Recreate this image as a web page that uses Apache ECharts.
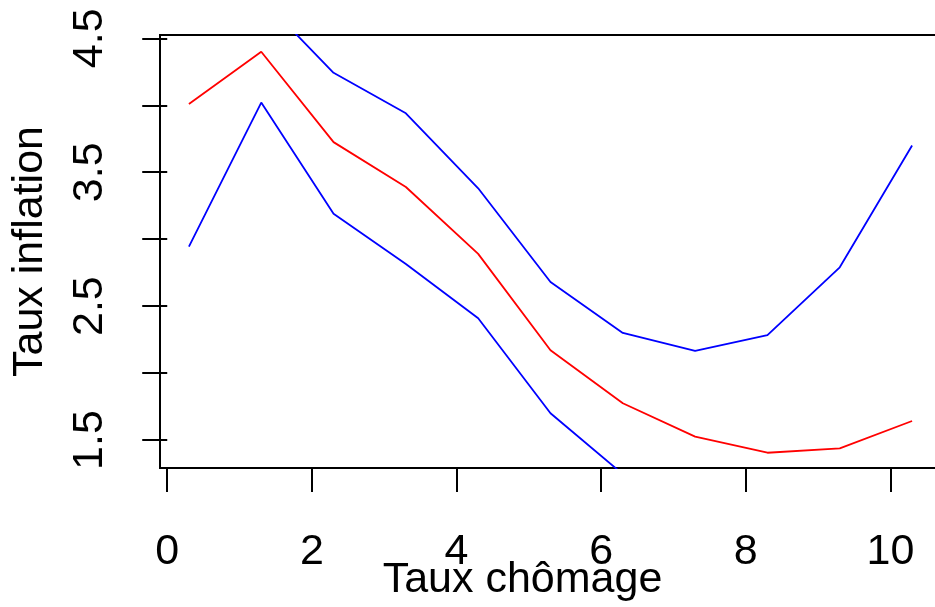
<!DOCTYPE html>
<html>
<head>
<meta charset="utf-8">
<script src="https://cdn.jsdelivr.net/npm/echarts@6/dist/echarts.min.js"></script>
<style>
  html, body { margin: 0; padding: 0; background: #fff; }
  #chart { width: 935px; height: 607px; }
</style>
</head>
<body>
<div id="chart"></div>
<script>
// Unemployment rate (x) vs. inflation rate: fitted curve with its lower and upper band
const chomage = [0.3, 1.3, 2.3, 3.3, 4.3, 5.3, 6.3, 7.3, 8.3, 9.3, 10.3];
const inflationFit = [4.01, 4.40, 3.725, 3.39, 2.89, 2.17, 1.775, 1.525, 1.405, 1.438, 1.642];
const bandUpper = [5.09, 4.80, 4.243, 3.94, 3.38, 2.68, 2.30, 2.165, 2.284, 2.79, 3.70];
const bandLower = [2.944, 4.02, 3.19, 2.815, 2.41, 1.70, 1.245, 0.885, 0.53, 0.09, -0.42];

const xTicks = [0, 2, 4, 6, 8, 10];
const yTicks = [1.5, 2.0, 2.5, 3.0, 3.5, 4.0, 4.5];
const yLabels = [1.5, 2.5, 3.5, 4.5];

const pairs = (xs, ys) => xs.map((x, i) => [x, ys[i]]);

const FONT = '"Liberation Sans", Arial, sans-serif';
const chart = echarts.init(document.getElementById('chart'), null, { renderer: 'canvas' });

chart.setOption({
  animation: false,
  backgroundColor: '#ffffff',
  grid: {
    left: 160, right: -6, top: 35, bottom: 139,
    containLabel: false, outerBoundsMode: 'none',
    show: true, borderColor: '#000', borderWidth: 2, backgroundColor: 'transparent'
  },
  xAxis: {
    type: 'value',
    min: -0.1, max: 10.7,
    name: 'Taux chômage',
    nameLocation: 'middle',
    nameGap: 90,
    nameMoveOverlap: false,
    nameTextStyle: { fontFamily: FONT, fontSize: 43, color: '#000', lineHeight: 44, padding: [0, 56, 0, 0] },
    axisLine: { show: false },
    splitLine: { show: false },
    axisTick: { show: true, inside: false, length: 24, customValues: xTicks, lineStyle: { color: '#000', width: 2 } },
    axisLabel: {
      customValues: xTicks, margin: 62, fontFamily: FONT, fontSize: 43, color: '#000', lineHeight: 44,
      formatter: v => String(v)
    }
  },
  yAxis: {
    type: 'value',
    min: 1.291, max: 4.525,
    name: 'Taux inflation',
    nameLocation: 'middle',
    nameRotate: 90,
    nameGap: 108,
    nameMoveOverlap: false,
    nameTextStyle: { fontFamily: FONT, fontSize: 43, color: '#000', lineHeight: 44 },
    axisLine: { show: false },
    splitLine: { show: false },
    axisTick: { show: true, inside: false, length: 25, customValues: yTicks, lineStyle: { color: '#000', width: 2 } },
    axisLabel: {
      customValues: yLabels, rotate: 90, margin: 48, fontFamily: FONT, fontSize: 43, color: '#000', lineHeight: 44,
      formatter: v => v.toFixed(1)
    }
  },
  series: [
    { type: 'line', data: pairs(chomage, inflationFit), showSymbol: false, clip: true,
      lineStyle: { color: '#ff0000', width: 1.8 } },
    { type: 'line', data: pairs(chomage, bandUpper), showSymbol: false, clip: true,
      lineStyle: { color: '#0000ff', width: 1.8 } },
    { type: 'line', data: pairs(chomage, bandLower), showSymbol: false, clip: true,
      lineStyle: { color: '#0000ff', width: 1.8 } }
  ]
});
</script>
</body>
</html>
